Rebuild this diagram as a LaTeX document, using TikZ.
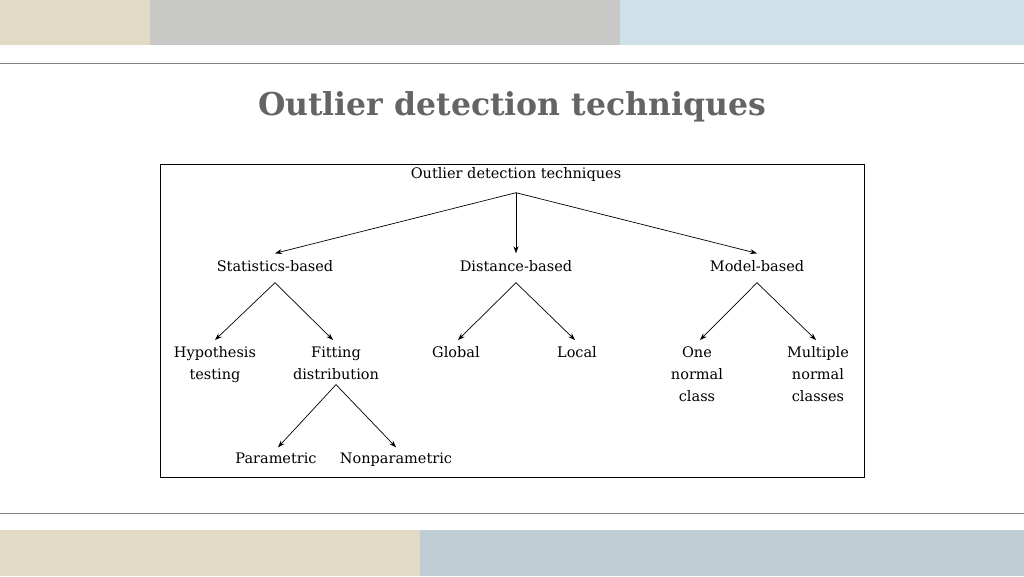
\documentclass[tikz,border=0pt]{standalone}
\usepackage{fontspec}
\setmainfont{DejaVu Serif}
\usetikzlibrary{arrows.meta,positioning}
\definecolor{titlegrey}{RGB}{100,100,100}
\definecolor{bandbeige}{RGB}{226,218,196}
\definecolor{bandgrey}{RGB}{200,200,198}
\definecolor{bandblue}{RGB}{206,224,232}
\tikzset{
  mlbl/.style={font=\fontsize{14.5}{22}\selectfont, align=center, inner sep=0pt, anchor=north},
  lbl/.style={font=\fontsize{14.5}{22}\selectfont, inner sep=0pt, text height=10pt, text depth=3pt},
  arr/.style={-{Stealth[length=7pt,width=5pt]}, line width=0.7pt},
}
\newcommand{\fl}{\rule{0pt}{11pt}}
\begin{document}
\begin{tikzpicture}[x=1pt,y=-1pt]
    %%background
    \useasboundingbox (0,0) rectangle (1024,576);
    \fill[white] (0,0) rectangle (1024,576);
    \fill[bandbeige] (0,0) rectangle (150,45);
    \fill[bandgrey] (150,0) rectangle (620,45);
    \fill[bandblue] (620,0) rectangle (1024,45);
    \fill[bandbeige] (0,530) rectangle (420,576);
    \fill[bandblue!80!gray] (420,530) rectangle (1024,576);
    \draw[gray, line width=0.8pt] (0,63) -- (1024,63);
    \draw[gray, line width=0.8pt] (0,513) -- (1024,513);
    \node[font=\fontsize{31.5}{36}\selectfont\bfseries, text=titlegrey] (title) at (512,107) {Outlier detection techniques};
    \draw[line width=0.6pt] (160,164) rectangle (864,477);
    %%tree
    \node[lbl] (root) at (516,175) {Outlier detection techniques};
    \node[lbl] (stat) at (275,268) {Statistics-based};
    \node[lbl] (dist) at (516,268) {Distance-based};
    \node[lbl] (model) at (757,268) {Model-based};
    \node[mlbl] (hyp) at (215,346) {\fl Hypothesis\\testing};
    \node[mlbl] (fit) at (336,346) {\fl Fitting\\distribution};
    \node[mlbl] (glob) at (456,346) {\fl Global};
    \node[mlbl] (loc) at (577,346) {\fl Local};
    \node[mlbl] (one) at (697,346) {\fl One\\normal\\class};
    \node[mlbl] (multi) at (818,346) {\fl Multiple\\normal\\classes};
    \node[lbl] (param) at (276,460) {Parametric};
    \node[lbl] (nonpar) at (396,460) {Nonparametric};
    %%connectors
    \coordinate (rootb) at ([yshift=-11pt]root.south);
    \coordinate (statb) at ([yshift=-8pt]stat.south);
    \coordinate (distb) at ([yshift=-8pt]dist.south);
    \coordinate (modelb) at ([yshift=-8pt]model.south);
    \coordinate (fitb) at ([yshift=-5pt]fit.south);
    \draw[arr] (rootb) -- ([yshift=8pt]stat.north);
    \draw[arr] (rootb) -- ([yshift=8pt]dist.north);
    \draw[arr] (rootb) -- ([yshift=8pt]model.north);
    \draw[arr] (statb) -- ([yshift=6pt]hyp.north);
    \draw[arr] (statb) -- ([xshift=-3pt,yshift=6pt]fit.north);
    \draw[arr] (distb) -- ([xshift=2pt,yshift=6pt]glob.north);
    \draw[arr] (distb) -- ([xshift=-2pt,yshift=6pt]loc.north);
    \draw[arr] (modelb) -- ([xshift=3pt,yshift=6pt]one.north);
    \draw[arr] (modelb) -- ([xshift=-2pt,yshift=6pt]multi.north);
    \draw[arr] (fitb) -- ([xshift=2pt,yshift=6pt]param.north);
    \draw[arr] (fitb) -- ([yshift=6pt]nonpar.north);
\end{tikzpicture}
\end{document}
